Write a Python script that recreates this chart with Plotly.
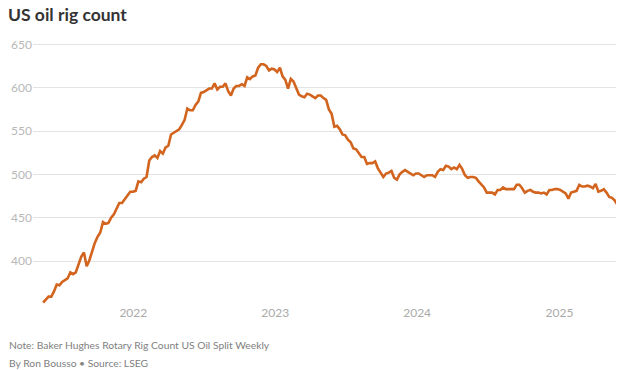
import pandas as pd
import plotly.graph_objects as go

# Weekly US oil rig count (Baker Hughes), Fridays from 2021-05-14
rigs_2021 = [352, 356, 359, 359, 365, 373, 372, 376, 378, 380, 387, 385, 387, 397, 405, 410,
             394, 401, 411, 421, 428, 433, 445, 443, 444, 450, 454, 461, 467, 467, 471, 475, 480, 480]
rigs_2022 = [481, 492, 491, 495, 497, 516, 520, 522, 519, 527, 524, 531, 533, 546, 548, 549, 552,
             557, 563, 576, 574, 574, 580, 584, 594, 595, 597, 599, 599, 605, 598, 601, 601, 605,
             596, 591, 599, 602, 602, 604, 602, 612, 610, 613, 614, 623, 627, 627, 625, 620, 622, 621]
rigs_2023 = [618, 623, 613, 609, 599, 610, 607, 600, 592, 590, 589, 593, 592, 590, 588, 591, 591,
             588, 586, 575, 570, 555, 556, 552, 546, 545, 540, 537, 530, 529, 525, 520, 520, 512,
             513, 513, 515, 507, 502, 497, 501, 502, 504, 496, 494, 500, 503, 505, 503, 501, 499, 501]
rigs_2024 = [501, 499, 497, 499, 499, 499, 497, 503, 506, 505, 510, 509, 506, 508, 506, 511, 506,
             499, 496, 497, 497, 496, 492, 488, 485, 479, 479, 479, 477, 482, 482, 485, 483, 483,
             483, 483, 488, 488, 484, 479, 481, 482, 480, 479, 479, 478, 479, 477, 482, 482, 483, 483]
rigs_2025 = [482, 480, 478, 472, 479, 480, 481, 488, 486, 486, 487, 486, 484, 489, 480, 481, 483,
             479, 474, 473, 470, 465]

rigs = rigs_2021 + rigs_2022 + rigs_2023 + rigs_2024 + rigs_2025
dates = pd.date_range("2021-05-14", periods=len(rigs), freq="W-FRI")

y_ticks = [400, 450, 500, 550, 600, 650]
x_ticks = ["2022-01-01", "2023-01-01", "2024-01-01", "2025-01-01"]
x_labels = ["2022", "2023", "2024", "2025"]

title = "US oil rig count"
note = "Note: Baker Hughes Rotary Rig Count US Oil Split Weekly"
byline = "By Ron Bousso \u2022 Source: LSEG"

# The page body adds an 8px offset, so the figure is drawn 8px smaller
W, H = 616, 362
M_L, M_R, M_T, M_B = 25, 0, 32, 66
plot_h = H - M_T - M_B

fig = go.Figure()
fig.add_trace(go.Scatter(
    x=dates, y=rigs, mode="lines",
    line=dict(color="#d2641e", width=2.6),
    hoverinfo="x+y", showlegend=False,
))

fig.update_layout(
    width=W, height=H,
    margin=dict(l=M_L, r=M_R, t=M_T, b=M_B, pad=0),
    paper_bgcolor="white", plot_bgcolor="white",
    font=dict(family="Lato, 'Open Sans', sans-serif", color="#aaaaaa"),
    title=dict(text="<b>" + title + "</b>", x=0.0, xanchor="left",
               y=1 - 7 / H, yanchor="middle",
               font=dict(family="Lato, sans-serif", size=17.5, color="#333333")),
    xaxis=dict(
        type="date", range=["2021-04-18", "2025-06-16"],
        tickvals=x_ticks, ticktext=x_labels, showgrid=False, zeroline=False,
        showline=False, ticks="", tickfont=dict(size=12, color="#aaaaaa"),
    ),
    yaxis=dict(
        range=[350.5, 655], tickvals=y_ticks, showgrid=True, gridcolor="#e3e3e3",
        gridwidth=1, zeroline=False, showline=False, ticks="",
        tickfont=dict(size=12, color="#b8b8b8"),
    ),
    annotations=[
        dict(text=note, xref="paper", yref="paper", x=0, xshift=-M_L - 1, xanchor="left",
             y=(H - M_B - 337) / plot_h, yanchor="middle", showarrow=False,
             font=dict(size=10.3, color="#808080")),
        dict(text=byline, xref="paper", yref="paper", x=0, xshift=-M_L - 1, xanchor="left",
             y=(H - M_B - 355) / plot_h, yanchor="middle", showarrow=False,
             font=dict(size=10.3, color="#808080")),
    ],
)

fig.write_html("out.html")
